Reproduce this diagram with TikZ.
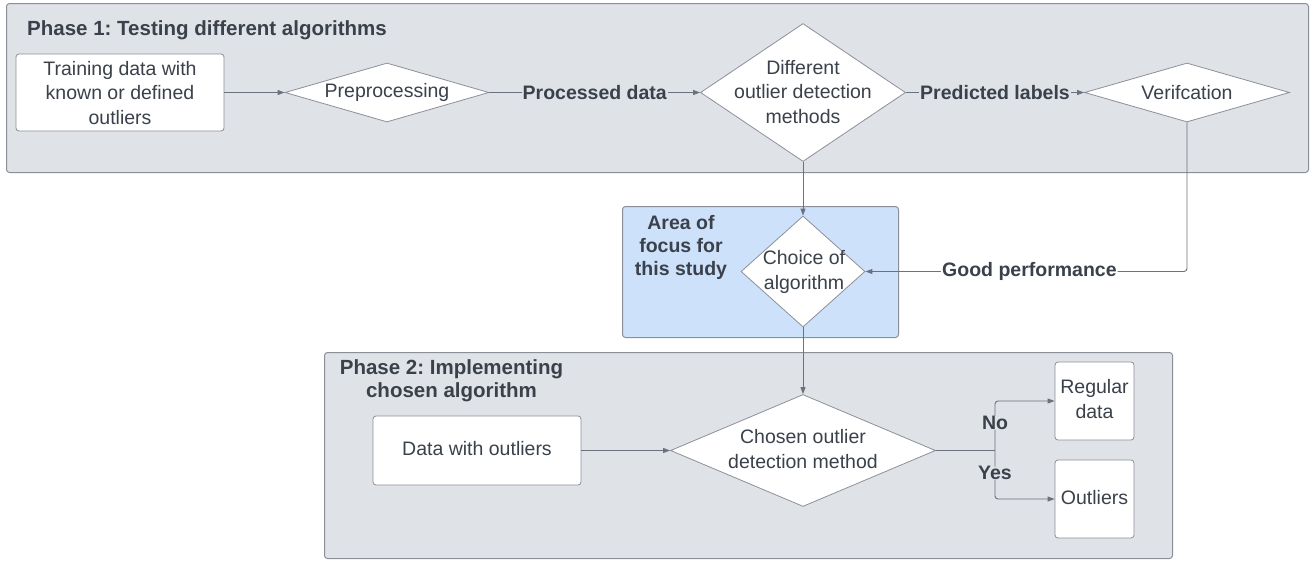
\documentclass[tikz,border=0pt]{standalone}
\usepackage{fontspec}
\setmainfont{Liberation Sans}
\usetikzlibrary{shapes.geometric,arrows.meta}
\frenchspacing

\definecolor{panel}{HTML}{DFE2E7}
\definecolor{edge}{HTML}{8B9098}
\definecolor{ink}{HTML}{3A414A}
\definecolor{wire}{HTML}{6C727B}
\definecolor{focus}{HTML}{CDE1FB}

\newcommand\normaltext{\fontsize{19.5}{24.2}\selectfont}
\newcommand\boldtext{\fontsize{19.5}{23}\selectfont\bfseries}
\newcommand\titletext{\fontsize{20.5}{23.5}\selectfont\bfseries}

\tikzset{
  panelbox/.style={draw=edge, fill=panel, rounded corners=3pt, line width=1pt,
    inner sep=0pt, anchor=north west},
  focusbox/.style={panelbox, fill=focus},
  stepbox/.style={draw=edge, fill=white, rounded corners=3pt, line width=0.8pt,
    inner sep=0pt},
  decision/.style={diamond, draw=edge, fill=white, line width=0.8pt, inner sep=0pt},
  txt/.style={align=center, font=\normaltext, inner sep=0pt, text=ink},
  heading/.style={align=center, font=\titletext, inner sep=0pt, text=ink},
  lbl/.style={font=\boldtext, inner sep=1pt, text=ink},
  conn/.style={draw=wire, line width=0.9pt},
  arr/.style={conn, -{Triangle[length=7pt,width=5pt]}},
}

\begin{document}
\begin{tikzpicture}[x=1pt, y=-1pt]
\useasboundingbox (0,0) rectangle (1314,560);

% ---------- Phase 1 ----------
\node[panelbox, minimum width=1302pt, minimum height=169pt] (phase1) at (6,3) {};
\node[heading, anchor=base west] (phase1title) at (27,35.5) {Phase 1: Testing different algorithms};

\node[stepbox, minimum width=208pt, minimum height=77pt] (train) at (120,92.5) {};
\node[txt] (traintxt) at (120,93) {Training data with\\known or defined\\outliers};

\node[decision, minimum width=204pt, minimum height=59pt] (pre) at (387,92.5) {};
\node[txt] (pretxt) at (387,92.5) {Preprocessing};

\node[decision, minimum width=205pt, minimum height=138pt] (diff) at (803,92.5) {};
\node[txt] (difftxt) at (803,92) {Different\\outlier detection\\methods};

\node[decision, minimum width=205pt, minimum height=59pt] (ver) at (1187,92.5) {};
\node[txt] (vertxt) at (1187,92.5) {Verifcation};

% ---------- Area of focus ----------
\node[focusbox, minimum width=276pt, minimum height=131pt] (focus) at (622,206) {};
\node[txt, font=\boldtext] (focustxt) at (681,247) {Area of\\focus for\\this study};

\node[decision, minimum width=124pt, minimum height=111pt] (choice) at (803,271.5) {};
\node[txt] (choicetxt) at (804,272) {Choice of\\algorithm};

% ---------- Phase 2 ----------
\node[panelbox, minimum width=848pt, minimum height=206pt] (phase2) at (324,352) {};
\node[heading] (phase2title) at (451.5,380.5) {Phase 2: Implementing\\chosen algorithm};

\node[stepbox, minimum width=208pt, minimum height=69pt] (data) at (477,450.5) {};
\node[txt] (datatxt) at (477,449) {Data with outliers};

\node[decision, minimum width=265pt, minimum height=112pt] (chosen) at (803,450.5) {};
\node[txt] (chosentxt) at (803,449) {Chosen outlier\\detection method};

\node[stepbox, minimum width=79pt, minimum height=78pt] (regular) at (1094.5,401) {};
\node[txt] (regulartxt) at (1094.5,399) {Regular\\data};

\node[stepbox, minimum width=79pt, minimum height=78pt] (outl) at (1094.5,499) {};
\node[txt] (outltxt) at (1094.5,498) {Outliers};

\coordinate (split) at (995,450.5);

% ---------- Connectors ----------
\draw[arr] (train.east) -- (pre.west);
\draw[arr] (pre.east) -- node[lbl, fill=panel] {Processed data} (diff.west);
\draw[arr] (diff.east) -- node[lbl, fill=panel] {Predicted labels} (ver.west);
\draw[arr] (diff.south) -- (choice.north);
\draw[arr, rounded corners=3pt] (ver.south) |- node[lbl, fill=white, pos=0.745] {Good performance} (choice.east);
\draw[arr] (choice.south) -- (chosen.north);
\draw[arr] (data.east) -- (chosen.west);
\draw[conn] (chosen.east) -- (split);
\draw[arr, rounded corners=3pt] (split) |- node[lbl, fill=panel, pos=0.28, inner sep=0pt] {No} (regular.west);
\draw[arr, rounded corners=3pt] (split) |- node[lbl, fill=panel, pos=0.235, inner sep=0pt] {Yes} (outl.west);
\end{tikzpicture}
\end{document}
